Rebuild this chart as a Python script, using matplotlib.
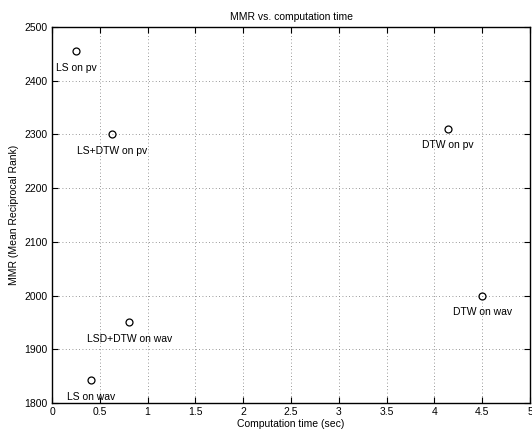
import matplotlib
matplotlib.use("Agg")
import matplotlib.pyplot as plt

# data
methods = ["LS on pv", "LS+DTW on pv", "DTW on pv", "DTW on wav", "LSD+DTW on wav", "LS on wav"]
comp_time = [0.25, 0.63, 4.14, 4.5, 0.81, 0.41]
mmr = [2455, 2300, 2311, 2000, 1950, 1842]

xticks = [0, 0.5, 1, 1.5, 2, 2.5, 3, 3.5, 4, 4.5, 5]
xticklabels = ["0", "0.5", "1", "1.5", "2", "2.5", "3", "3.5", "4", "4.5", "5"]
yticks = [1800, 1900, 2000, 2100, 2200, 2300, 2400, 2500]

plt.rcParams['font.family'] = ['Liberation Sans', 'DejaVu Sans']

fig = plt.figure(figsize=(5.32, 4.30), dpi=100)
ax = fig.add_axes([52 / 532, 27 / 430, 478 / 532, 376 / 430])

ax.plot(comp_time, mmr, 'o', mfc='none', mec='black', ms=5, mew=0.9, ls='none')
for name, x, y in zip(methods, comp_time, mmr):
    ax.annotate(name, (x, y), xytext=(0, -12), textcoords='offset points',
                ha='center', va='center', fontsize=7.5)

ax.set_xlim(0, 5)
ax.set_ylim(1800, 2500)
ax.set_xticks(xticks)
ax.set_xticklabels(xticklabels)
ax.set_yticks(yticks)
ax.tick_params(direction='in', top=True, right=True, labelsize=7.5, length=4, width=0.8, pad=3)
ax.grid(True, ls=(0, (1, 3)), color='#777777', lw=0.6)
for s in ax.spines.values():
    s.set_linewidth(1.0)

ax.set_title("MMR vs. computation time", fontsize=7.5, pad=5)
ax.set_xlabel("Computation time (sec)", fontsize=7.5, labelpad=1)
ax.set_ylabel("MMR (Mean Reciprocal Rank)", fontsize=7.5, labelpad=4)

fig.savefig("out.png", dpi=100)
